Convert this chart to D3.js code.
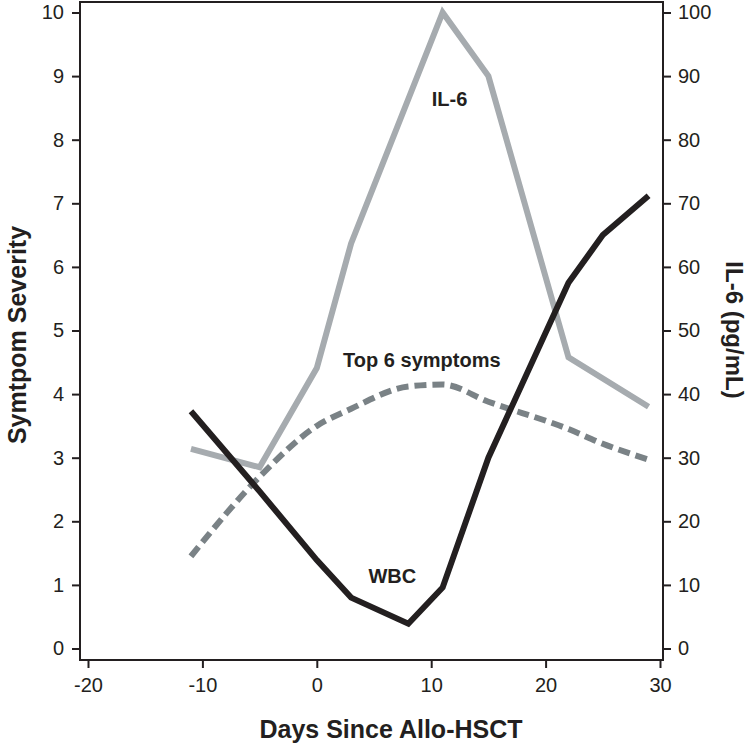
<!DOCTYPE html>
<html>
<head>
<meta charset="utf-8">
<script src="https://cdn.jsdelivr.net/npm/d3@7"></script>
<style>
  html, body { margin: 0; padding: 0; background: #fff; }
  svg { display: block; font-family: "Liberation Sans", Arial, Helvetica, sans-serif; }
</style>
</head>
<body>
<svg id="chart" width="750" height="749"></svg>
<script>
// ---- Data ----
const xTicks = [-20, -10, 0, 10, 20, 30];
const leftTicks = [0, 1, 2, 3, 4, 5, 6, 7, 8, 9, 10];
const rightTicks = [0, 10, 20, 30, 40, 50, 60, 70, 80, 90, 100];

// IL-6 (pg/mL), right axis
const il6Days   = [-11, -5, 0, 3, 11, 15, 22, 29];
const il6Values = [31.4, 28.5, 44.1, 63.7, 100, 90, 45.8, 38.0];

// WBC, drawn on left axis scale
const wbcDays   = [-11, -5, 0, 3, 8, 11, 15, 22, 25, 29];
const wbcValues = [3.73, 2.47, 1.39, 0.80, 0.39, 0.96, 3.0, 5.75, 6.5, 7.12];

// Top 6 symptoms severity, left axis
const sympDays   = [-11, -5, 0, 3, 8, 11, 15, 22, 25, 29];
const sympValues = [1.45, 2.70, 3.50, 3.77, 4.12, 4.15, 3.88, 3.45, 3.22, 2.97];

const labels = [
  { text: "IL-6", day: 11.6, value: 8.53, anchor: "middle" },
  { text: "Top 6 symptoms", day: 2.3, value: 4.43, anchor: "start" },
  { text: "WBC", day: 6.6, value: 1.03, anchor: "middle" }
];

// ---- Layout ----
const frame = { left: 80, right: 663, top: 2, bottom: 660 };
const ink = "#231f20";

const svg = d3.select("#chart");
const x = d3.scaleLinear().domain([-20, 30]).range([88, 660]);
const yL = d3.scaleLinear().domain([0, 10]).range([648.5, 12.5]);
const yR = d3.scaleLinear().domain([0, 100]).range([648.5, 12.5]);

// Frame
svg.append("rect")
  .attr("x", frame.left).attr("y", frame.top)
  .attr("width", frame.right - frame.left).attr("height", frame.bottom - frame.top)
  .attr("fill", "none").attr("stroke", ink).attr("stroke-width", 2);

function styleAxis(g) {
  g.select(".domain").remove();
  g.selectAll(".tick line").attr("stroke", ink).attr("stroke-width", 2);
  g.selectAll(".tick text").attr("fill", ink).attr("font-size", 20).attr("font-family", "Liberation Sans, Arial, sans-serif");
}
const fmt = d => String(d);

svg.append("g").attr("transform", `translate(${frame.left},0)`)
  .call(d3.axisLeft(yL).tickValues(leftTicks).tickSize(8).tickPadding(8).tickFormat(fmt))
  .call(styleAxis);

svg.append("g").attr("transform", `translate(${frame.right},0)`)
  .call(d3.axisRight(yR).tickValues(rightTicks).tickSize(8).tickPadding(7).tickFormat(fmt))
  .call(styleAxis);

svg.append("g").attr("transform", `translate(0,${frame.bottom})`)
  .call(d3.axisBottom(x).tickValues(xTicks).tickSize(8).tickPadding(10).tickFormat(fmt))
  .call(styleAxis);

// Lines
const il6Line = d3.line().x((d, i) => x(il6Days[i])).y(d => yR(d));
const wbcLine = d3.line().x((d, i) => x(wbcDays[i])).y(d => yL(d));
const sympLine = d3.line().x((d, i) => x(sympDays[i])).y(d => yL(d)).curve(d3.curveMonotoneX);

svg.append("path").datum(il6Values)
  .attr("d", il6Line).attr("fill", "none")
  .attr("stroke", "#a6abaf").attr("stroke-width", 6).attr("stroke-linejoin", "miter");

svg.append("path").datum(sympValues)
  .attr("d", sympLine).attr("fill", "none")
  .attr("stroke", "#7a8286").attr("stroke-width", 6).attr("stroke-dasharray", "12,6");

svg.append("path").datum(wbcValues)
  .attr("d", wbcLine).attr("fill", "none")
  .attr("stroke", ink).attr("stroke-width", 6).attr("stroke-linejoin", "miter");

// Series labels
svg.selectAll("text.series").data(labels).enter().append("text")
  .attr("class", "series")
  .attr("x", d => x(d.day)).attr("y", d => yL(d.value))
  .attr("text-anchor", d => d.anchor)
  .attr("font-size", 20).attr("font-weight", "bold").attr("fill", ink)
  .text(d => d.text);

// Axis titles
svg.append("text")
  .attr("x", 391).attr("y", 738)
  .attr("text-anchor", "middle").attr("font-size", 25).attr("font-weight", "bold").attr("fill", ink)
  .text("Days Since Allo-HSCT");

svg.append("text")
  .attr("transform", "translate(26,335) rotate(-90)")
  .attr("text-anchor", "middle").attr("font-size", 25).attr("font-weight", "bold").attr("fill", ink)
  .text("Symtpom Severity");

svg.append("text")
  .attr("transform", "translate(726,330) rotate(90)")
  .attr("text-anchor", "middle").attr("font-size", 24).attr("font-weight", "bold").attr("fill", ink)
  .text("IL-6 (pg/mL)");
</script>
</body>
</html>
